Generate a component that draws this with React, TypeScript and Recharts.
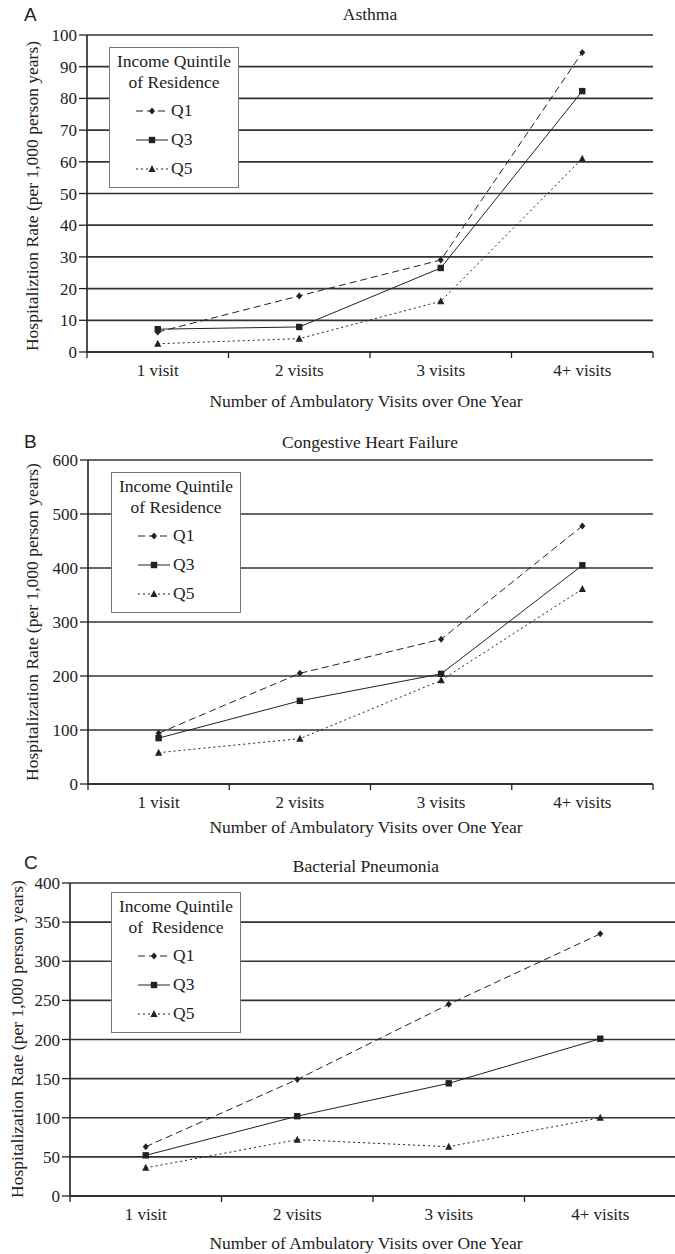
import React from 'react';
import { LineChart, Line, XAxis, YAxis, CartesianGrid, Legend } from 'recharts';

const categories = ['1 visit', '2 visits', '3 visits', '4+ visits'];
// boundary ticks on the integers, labels on the halves (Excel-style "between" ticks)
const xTicks = [0, 0.5, 1, 1.5, 2, 2.5, 3, 3.5, 4];

const asthmaQ1 = [6.3, 17.7, 29, 94.5];
const asthmaQ3 = [7.2, 7.9, 26.5, 82.3];
const asthmaQ5 = [2.6, 4.2, 16, 61];
const asthmaTicks = [0, 10, 20, 30, 40, 50, 60, 70, 80, 90, 100];

const chfQ1 = [94, 205, 268, 478];
const chfQ3 = [85, 154, 204, 405];
const chfQ5 = [58, 84, 192, 361];
const chfTicks = [0, 100, 200, 300, 400, 500, 600];

const pneuQ1 = [63, 149, 245, 335];
const pneuQ3 = [52, 102, 144, 201];
const pneuQ5 = [36, 72, 63, 100];
const pneuTicks = [0, 50, 100, 150, 200, 250, 300, 350, 400];

const SERIF = "'Liberation Serif', 'Times New Roman', Tinos, 'DejaVu Serif', 'Noto Serif', serif";
const SANS = "'Liberation Sans', Arial, sans-serif";
const INK = '#222';

const buildRows = (q1: number[], q3: number[], q5: number[]) =>
  categories.map((c, i) => ({ x: i + 0.5, visit: c, q1: q1[i], q3: q3[i], q5: q5[i] }));

const Diamond = ({ cx, cy }: any) => (
  <polygon points={`${cx},${cy - 3.5} ${cx + 3},${cy} ${cx},${cy + 3.5} ${cx - 3},${cy}`} fill={INK} />
);
const Square = ({ cx, cy }: any) => <rect x={cx - 3.2} y={cy - 3.2} width={6.4} height={6.4} fill={INK} />;
const Triangle = ({ cx, cy }: any) => (
  <polygon points={`${cx},${cy - 4} ${cx + 3.6},${cy + 3} ${cx - 3.6},${cy + 3}`} fill={INK} />
);

const series = [
  { key: 'q1', name: 'Q1', dash: '7 4', Marker: Diamond },
  { key: 'q3', name: 'Q3', dash: undefined, Marker: Square },
  { key: 'q5', name: 'Q5', dash: '2 3', Marker: Triangle },
];

const XTick = ({ x, y, payload }: any) => {
  const v = payload.value;
  if (Number.isInteger(v)) {
    return <line x1={x} x2={x} y1={y} y2={y + 6} stroke={INK} strokeWidth={1.3} />;
  }
  return (
    <text x={x} y={y + 24} textAnchor="middle" fill={INK} style={{ fontFamily: SERIF, fontSize: 17 }}>
      {categories[Math.floor(v)]}
    </text>
  );
};

const QuintileLegend = ({ title2 }: { title2: string }) => (
  <div style={{
    width: 128, height: 136, border: '1.5px solid #777', background: '#fff',
    fontFamily: SERIF, fontSize: 17.5, color: INK, paddingTop: 3, boxSizing: 'content-box',
  }}>
    <div style={{ textAlign: 'center', lineHeight: '21px' }}>Income Quintile</div>
    <div style={{ textAlign: 'center', lineHeight: '21px', whiteSpace: 'pre' }}>{title2}</div>
    <div style={{ marginTop: 3 }}>
      {series.map((s) => (
        <div key={s.key} style={{ height: 29, display: 'flex', alignItems: 'center', paddingLeft: 25 }}>
          <svg width={34} height={12}>
            <line x1={1} x2={33} y1={6} y2={6} stroke={INK} strokeWidth={1} strokeDasharray={s.dash} />
            <s.Marker cx={17} cy={6} />
          </svg>
          <span style={{ marginLeft: 2 }}>{s.name}</span>
        </div>
      ))}
    </div>
  </div>
);

interface PanelProps {
  letter: string;
  title: string;
  yTitle: string;
  legendTitle2: string;
  q1: number[];
  q3: number[];
  q5: number[];
  yTicks: number[];
  top: number;
  height: number;
  width: number;
  margin: { top: number; right: number; bottom: number; left: number };
  yWidth: number;
  titleX: number;
  titleY: number;
  letterY: number;
  xTitleY: number;
  yTitleX: number;
  yTitleY: number;
  legendPos: { left: number; top: number };
}

function Panel(p: PanelProps) {
  const data = buildRows(p.q1, p.q3, p.q5);
  const yMax = p.yTicks[p.yTicks.length - 1];
  const txt = { position: 'absolute' as const, fontFamily: SERIF, color: INK, whiteSpace: 'nowrap' as const };
  return (
    <div style={{ position: 'absolute', left: 0, top: p.top, width: 675, height: p.height }}>
      <div style={{ position: 'absolute', left: 24, top: p.letterY - 16, fontFamily: SANS, fontSize: 19, color: INK }}>
        {p.letter}
      </div>
      <LineChart width={p.width} height={p.height} data={data} margin={p.margin}>
        <CartesianGrid vertical={false} stroke="#333" strokeWidth={1.7} />
        <XAxis dataKey="x" type="number" domain={[0, 4]} ticks={xTicks} interval={0}
          tick={<XTick />} tickLine={false} tickSize={0} tickMargin={0} height={40}
          axisLine={{ stroke: INK, strokeWidth: 1.6 }} />
        <YAxis domain={[0, yMax]} ticks={p.yTicks} interval={0} width={p.yWidth}
          tick={{ fill: INK, style: { fontFamily: SERIF, fontSize: 17 } }} tickSize={8} tickMargin={2}
          tickLine={{ stroke: INK, strokeWidth: 1.3 }} axisLine={{ stroke: INK, strokeWidth: 1.6 }} />
        <YAxis yAxisId="frame" orientation="right" domain={[0, yMax]} width={0} tick={false}
          tickLine={false} axisLine={{ stroke: '#555', strokeWidth: 1.6 }} />
        <Legend layout="vertical" align="center" verticalAlign="middle"
          wrapperStyle={{ left: p.legendPos.left, top: p.legendPos.top, width: 'auto' }}
          content={() => <QuintileLegend title2={p.legendTitle2} />} />
        {series.map((s) => (
          <Line key={s.key} type="linear" dataKey={s.key} name={s.name} stroke={INK} strokeWidth={1}
            strokeDasharray={s.dash} isAnimationActive={false}
            dot={(d: any) => <s.Marker key={`${s.key}-${d.index}`} cx={d.cx} cy={d.cy} />} />
        ))}
      </LineChart>
      <div style={{ ...txt, left: p.titleX, top: p.titleY, transform: 'translate(-50%, -50%)', fontSize: 17.5 }}>
        {p.title}
      </div>
      <div style={{ ...txt, left: 366, top: p.xTitleY, transform: 'translate(-50%, -50%)', fontSize: 17.5 }}>
        Number of Ambulatory Visits over One Year
      </div>
      <div style={{ ...txt, left: p.yTitleX, top: p.yTitleY, transform: 'translate(-50%, -50%) rotate(-90deg)', fontSize: 17.5 }}>
        {p.yTitle}
      </div>
    </div>
  );
}

export default function App() {
  return (
    <div style={{ position: 'absolute', left: 0, top: 0, width: 675, height: 1254, overflow: 'hidden', background: '#fff' }}>
      <Panel letter="A" title="Asthma" yTitle="Hospitaliztion Rate (per 1,000 person years)"
        legendTitle2="of Residence" q1={asthmaQ1} q3={asthmaQ3} q5={asthmaQ5} yTicks={asthmaTicks}
        top={0} height={420} width={675} yWidth={40}
        margin={{ top: 35, right: 22, bottom: 28, left: 47 }}
        titleX={370} titleY={14} letterY={20} xTitleY={401} yTitleX={32} yTitleY={196}
        legendPos={{ left: 109, top: 47 }} />
      <Panel letter="B" title="Congestive Heart Failure" yTitle="Hospitalization Rate (per 1,000 person years)"
        legendTitle2="of Residence" q1={chfQ1} q3={chfQ3} q5={chfQ5} yTicks={chfTicks}
        top={420} height={420} width={675} yWidth={45}
        margin={{ top: 40, right: 22, bottom: 16, left: 43 }}
        titleX={370} titleY={22} letterY={27} xTitleY={407} yTitleX={32} yTitleY={202}
        legendPos={{ left: 111, top: 52 }} />
      <Panel letter="C" title="Bacterial Pneumonia" yTitle="Hospitalization Rate (per 1,000 person years)"
        legendTitle2="of  Residence" q1={pneuQ1} q3={pneuQ3} q5={pneuQ5} yTicks={pneuTicks}
        top={840} height={414} width={680} yWidth={40}
        margin={{ top: 43, right: 4, bottom: 18, left: 30 }}
        titleX={366} titleY={26} letterY={28} xTitleY={403} yTitleX={17} yTitleY={199}
        legendPos={{ left: 111, top: 52 }} />
    </div>
  );
}
